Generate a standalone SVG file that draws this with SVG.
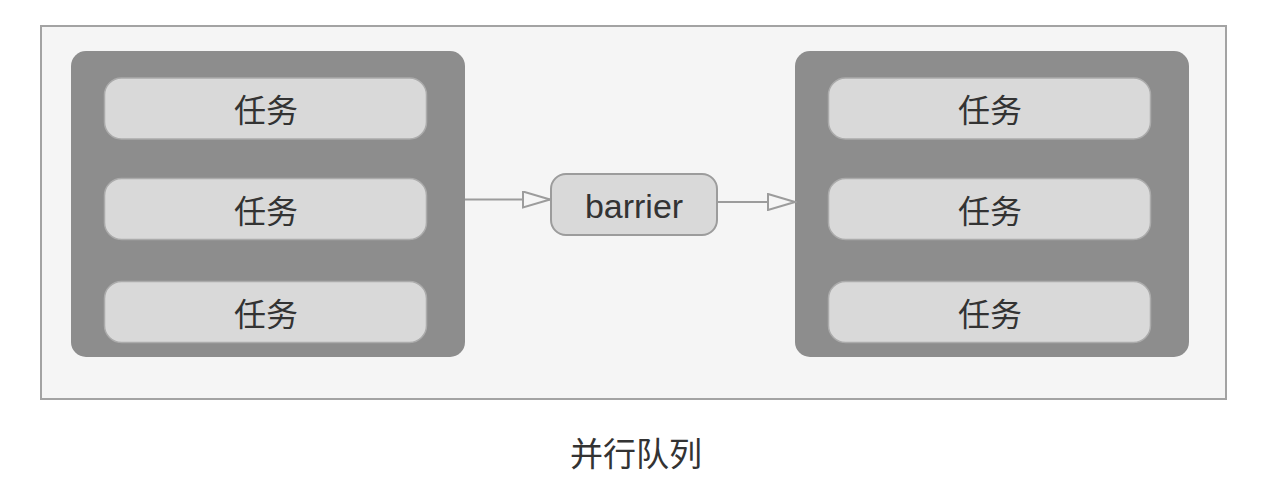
<svg xmlns="http://www.w3.org/2000/svg" width="1274" height="502" viewBox="0 0 1274 502">
<style>
.frame{fill:#f5f5f5;stroke:#a3a3a3;stroke-width:2}
.grp{fill:#8d8d8d}
.task{fill:#d9d9d9;stroke:#ababab;stroke-width:1.5}
.bar{fill:#d9d9d9;stroke:#9c9c9c;stroke-width:2}
.t{font-family:"Liberation Sans","Noto Sans CJK SC",sans-serif;fill:#333;text-anchor:middle}
.cn{font-size:32px}
.conn{stroke:#9c9c9c;stroke-width:2;fill:none}
</style>
<defs>
<marker id="arr" markerUnits="userSpaceOnUse" markerWidth="30" markerHeight="18" refX="27" refY="8" orient="auto" viewBox="-1 -1 30 18">
<path d="M0,0 L27,8 L0,16 Z" fill="#f5f5f5" stroke="#9c9c9c" stroke-width="2"/>
</marker>
</defs>
<rect class="frame" x="41" y="26" width="1185" height="373"/>
<g id="left-queue">
<rect class="grp" x="71" y="51" width="394" height="306" rx="15"/>
<g id="left-task-1"><rect class="task" x="104.5" y="78" width="322" height="61" rx="17"/><text class="t cn" x="266" y="122">任务</text></g>
<g id="left-task-2"><rect class="task" x="104.5" y="178.5" width="322" height="61" rx="17"/><text class="t cn" x="266" y="223">任务</text></g>
<g id="left-task-3"><rect class="task" x="104.5" y="281.5" width="322" height="61" rx="17"/><text class="t cn" x="266" y="326">任务</text></g>
</g>
<g id="barrier">
<rect class="bar" x="551" y="174" width="166" height="61" rx="15"/>
<text class="t" x="634" y="218" font-size="34">barrier</text>
</g>
<g id="right-queue">
<rect class="grp" x="795" y="51" width="394" height="306" rx="15"/>
<g id="right-task-1"><rect class="task" x="828.5" y="78" width="322" height="61" rx="17"/><text class="t cn" x="990" y="122">任务</text></g>
<g id="right-task-2"><rect class="task" x="828.5" y="178.5" width="322" height="61" rx="17"/><text class="t cn" x="990" y="223">任务</text></g>
<g id="right-task-3"><rect class="task" x="828.5" y="281.5" width="322" height="61" rx="17"/><text class="t cn" x="990" y="326">任务</text></g>
</g>
<g id="connectors">
<line class="conn" x1="465" y1="199.5" x2="550" y2="199.5" marker-end="url(#arr)"/>
<line class="conn" x1="718" y1="202" x2="795" y2="202" marker-end="url(#arr)"/>
</g>
<text id="caption" class="t" x="636" y="466" font-size="33">并行队列</text>
</svg>
